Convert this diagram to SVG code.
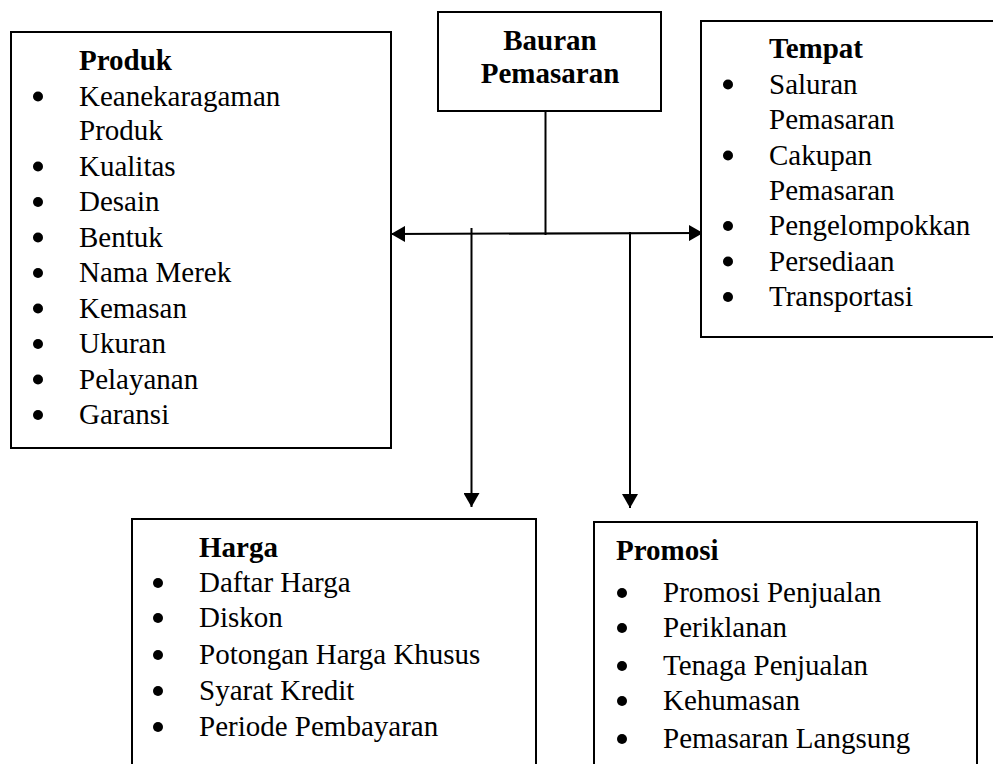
<svg xmlns="http://www.w3.org/2000/svg" width="993" height="764" viewBox="0 0 993 764">
  <style>
    .box { fill: #ffffff; stroke: #000000; stroke-width: 2; }
    .t { font-family: "Liberation Serif", "Times New Roman", serif; font-size: 29px; fill: #000000; }
    .b { font-weight: bold; }
    .dot { fill: #000000; }
    .line { stroke: #000000; stroke-width: 2; fill: none; }
  </style>
  <defs>
    <marker id="arrow" viewBox="0 0 14 16" refX="14" refY="8" markerWidth="14" markerHeight="16" markerUnits="userSpaceOnUse" orient="auto-start-reverse">
      <path d="M0,0 L14,8 L0,16 Z" fill="#000000"/>
    </marker>
  </defs>
  <rect width="993" height="764" fill="#ffffff"/>

  <!-- connectors -->
  <g id="connectors">
    <line class="line" x1="545.5" y1="111" x2="545.5" y2="235"/>
    <line class="line" x1="391" y1="234" x2="703" y2="233" marker-start="url(#arrow)" marker-end="url(#arrow)"/>
    <line class="line" x1="471.5" y1="228" x2="471.5" y2="507" marker-end="url(#arrow)"/>
    <line class="line" x1="630" y1="232" x2="630" y2="508" marker-end="url(#arrow)"/>
  </g>

  <!-- centre node -->
  <g id="bauran">
    <rect class="box" x="438" y="12" width="223" height="99"/>
    <text class="t b" x="550" y="50" text-anchor="middle">Bauran</text>
    <text class="t b" x="550" y="83" text-anchor="middle">Pemasaran</text>
  </g>

  <!-- product -->
  <g id="produk">
    <rect class="box" x="11" y="32" width="380" height="416"/>
    <text class="t b" x="79" y="70">Produk</text>
    <circle class="dot" cx="38" cy="96.5" r="5"/>
    <text class="t" x="79" y="105.5">Keanekaragaman</text>
    <text class="t" x="79" y="140">Produk</text>
    <circle class="dot" cx="38" cy="166.5" r="5"/>
    <text class="t" x="79" y="175.5">Kualitas</text>
    <circle class="dot" cx="38" cy="202" r="5"/>
    <text class="t" x="79" y="211">Desain</text>
    <circle class="dot" cx="38" cy="237.5" r="5"/>
    <text class="t" x="79" y="246.5">Bentuk</text>
    <circle class="dot" cx="38" cy="273" r="5"/>
    <text class="t" x="79" y="282">Nama Merek</text>
    <circle class="dot" cx="38" cy="308.5" r="5"/>
    <text class="t" x="79" y="317.5">Kemasan</text>
    <circle class="dot" cx="38" cy="344" r="5"/>
    <text class="t" x="79" y="353">Ukuran</text>
    <circle class="dot" cx="38" cy="379.5" r="5"/>
    <text class="t" x="79" y="388.5">Pelayanan</text>
    <circle class="dot" cx="38" cy="415" r="5"/>
    <text class="t" x="79" y="424">Garansi</text>
  </g>

  <!-- place -->
  <g id="tempat">
    <rect class="box" x="701" y="21" width="300" height="316"/>
    <text class="t b" x="769" y="58">Tempat</text>
    <circle class="dot" cx="728" cy="84.5" r="5"/>
    <text class="t" x="769" y="93.5">Saluran</text>
    <text class="t" x="769" y="129">Pemasaran</text>
    <circle class="dot" cx="728" cy="155.5" r="5"/>
    <text class="t" x="769" y="164.5">Cakupan</text>
    <text class="t" x="769" y="200">Pemasaran</text>
    <circle class="dot" cx="728" cy="226" r="5"/>
    <text class="t" x="769" y="235">Pengelompokkan</text>
    <circle class="dot" cx="728" cy="261.5" r="5"/>
    <text class="t" x="769" y="270.5">Persediaan</text>
    <circle class="dot" cx="728" cy="297" r="5"/>
    <text class="t" x="769" y="306">Transportasi</text>
  </g>

  <!-- price -->
  <g id="harga">
    <rect class="box" x="132" y="519" width="404" height="260"/>
    <text class="t b" x="199" y="557">Harga</text>
    <circle class="dot" cx="158" cy="583" r="5"/>
    <text class="t" x="199" y="592">Daftar Harga</text>
    <circle class="dot" cx="158" cy="618" r="5"/>
    <text class="t" x="199" y="627">Diskon</text>
    <circle class="dot" cx="158" cy="655" r="5"/>
    <text class="t" x="199" y="664">Potongan Harga Khusus</text>
    <circle class="dot" cx="158" cy="691" r="5"/>
    <text class="t" x="199" y="700">Syarat Kredit</text>
    <circle class="dot" cx="158" cy="727" r="5"/>
    <text class="t" x="199" y="736">Periode Pembayaran</text>
  </g>

  <!-- promotion -->
  <g id="promosi">
    <rect class="box" x="594" y="522" width="383" height="260"/>
    <text class="t b" x="616" y="560">Promosi</text>
    <circle class="dot" cx="622" cy="593" r="5"/>
    <text class="t" x="663" y="602">Promosi Penjualan</text>
    <circle class="dot" cx="622" cy="628" r="5"/>
    <text class="t" x="663" y="637">Periklanan</text>
    <circle class="dot" cx="622" cy="666" r="5"/>
    <text class="t" x="663" y="675">Tenaga Penjualan</text>
    <circle class="dot" cx="622" cy="701" r="5"/>
    <text class="t" x="663" y="710">Kehumasan</text>
    <circle class="dot" cx="622" cy="739" r="5"/>
    <text class="t" x="663" y="748">Pemasaran Langsung</text>
  </g>
</svg>
